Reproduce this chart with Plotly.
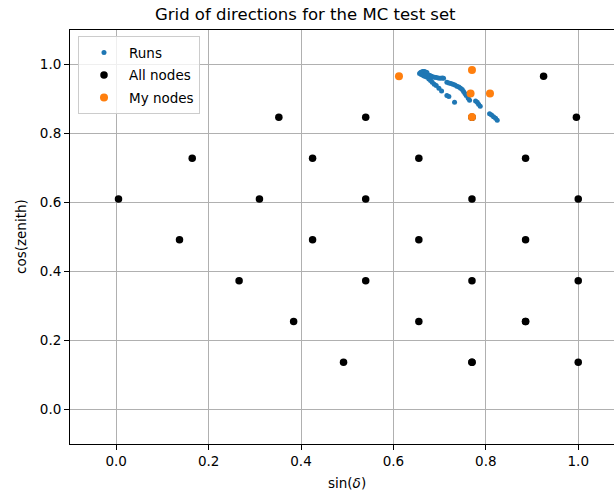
import plotly.graph_objects as go

# Directions of the individual MC runs
runs_x = [0.6565, 0.6587, 0.6609, 0.6638, 0.6666, 0.6695, 0.6724, 0.6602, 0.6638, 0.6666,
          0.6695, 0.6731, 0.6760, 0.6789, 0.6825, 0.6854, 0.6890, 0.6926, 0.6970, 0.7013,
          0.7056, 0.7085, 0.6767, 0.6804, 0.6840, 0.6883, 0.6926, 0.6984, 0.7042, 0.7157,
          0.7200, 0.7323, 0.7157, 0.7200, 0.7244, 0.7287, 0.7330, 0.7374, 0.7417, 0.7453,
          0.7489, 0.7518, 0.7547, 0.7576, 0.7619, 0.7648, 0.7778, 0.7814, 0.7843, 0.7879,
          0.8081, 0.8124, 0.8167, 0.8211, 0.8247]
runs_y = [0.9736, 0.9765, 0.9784, 0.9794, 0.9794, 0.9784, 0.9765, 0.9707, 0.9688, 0.9668,
          0.9649, 0.9630, 0.9697, 0.9678, 0.9659, 0.9639, 0.9630, 0.9620, 0.9610, 0.9601,
          0.9610, 0.9601, 0.9581, 0.9533, 0.9485, 0.9427, 0.9388, 0.9311, 0.9233, 0.9098,
          0.9069, 0.8905, 0.9485, 0.9465, 0.9446, 0.9427, 0.9407, 0.9369, 0.9349, 0.9311,
          0.9272, 0.9214, 0.9156, 0.9098, 0.9021, 0.8963, 0.8943, 0.8905, 0.8847, 0.8789,
          0.8576, 0.8537, 0.8489, 0.8441, 0.8383]

# Full grid of node directions
all_x = [0.925,
         0.352, 0.540, 0.770, 0.996,
         0.1645, 0.425, 0.655, 0.886,
         0.005, 0.310, 0.540, 0.770, 1.000,
         0.137, 0.425, 0.655, 0.886,
         0.266, 0.540, 0.770, 1.000,
         0.384, 0.655, 0.886, 0.886,
         0.492, 0.770, 0.770, 1.000]
all_y = [0.966,
         0.847, 0.847, 0.847, 0.847,
         0.728, 0.728, 0.728, 0.728,
         0.610, 0.610, 0.610, 0.610, 0.610,
         0.492, 0.492, 0.492, 0.492,
         0.373, 0.373, 0.373, 0.373,
         0.255, 0.255, 0.255, 0.255,
         0.137, 0.137, 0.137, 0.137]

# Nodes selected for this test set
my_x = [0.612, 0.770, 0.767, 0.809, 0.770]
my_y = [0.966, 0.984, 0.916, 0.916, 0.848]

FONT = "DejaVu Sans"

fig = go.Figure()
fig.add_trace(go.Scatter(
    x=runs_x, y=runs_y, mode="markers", name="Runs",
    marker=dict(color="#1f77b4", size=5, line=dict(width=0)),
    legendgroup="a",
))
fig.add_trace(go.Scatter(
    x=all_x, y=all_y, mode="markers", name="All nodes",
    marker=dict(color="black", size=7.5, line=dict(width=0)),
    legendgroup="b",
))
fig.add_trace(go.Scatter(
    x=my_x, y=my_y, mode="markers", name="My nodes",
    marker=dict(color="#ff7f0e", size=8, line=dict(width=0)),
    legendgroup="c",
))

axis_common = dict(
    showgrid=True, gridcolor="#b0b0b0", gridwidth=1,
    showline=True, linecolor="black", linewidth=1,
    ticks="outside", ticklen=5, tickwidth=1, tickcolor="black",
    tickfont=dict(family=FONT, size=13.5, color="black"),
    zeroline=False,
)

fig.update_xaxes(range=[-0.1, 1.0774], tickvals=[0, 0.2, 0.4, 0.6, 0.8, 1.0],
                 ticktext=["0.0", "0.2", "0.4", "0.6", "0.8", "1.0"],
                 mirror=True, **axis_common)
fig.update_yaxes(range=[-0.1, 1.1], tickvals=[0, 0.2, 0.4, 0.6, 0.8, 1.0],
                 ticktext=["0.0", "0.2", "0.4", "0.6", "0.8", "1.0"],
                 mirror=False, **axis_common)

fig.update_layout(
    width=614, height=493,
    margin=dict(l=70, r=0, t=30, b=49, pad=0),
    plot_bgcolor="white", paper_bgcolor="white",
    font=dict(family=FONT, size=13.5, color="black"),
    showlegend=True,
    legend=dict(
        x=0.0147, y=0.985, xanchor="left", yanchor="top",
        bgcolor="rgba(255,255,255,0.8)", bordercolor="#cccccc", borderwidth=1,
        font=dict(family=FONT, size=13.5, color="black"),
        traceorder="grouped", tracegroupgap=2, itemsizing="trace",
        itemwidth=40,
    ),
    annotations=[
        dict(text="Grid of directions for the MC test set", xref="paper", yref="paper",
             x=(305.5 - 70) / 544, y=1, yshift=16, xanchor="center", yanchor="middle",
             showarrow=False, font=dict(family=FONT, size=16.5, color="black")),
        dict(text="sin(<i>δ</i>)", xref="paper", yref="paper",
             x=(347 - 70) / 544, y=0, yshift=-39, xanchor="center", yanchor="middle",
             showarrow=False, font=dict(family=FONT, size=13.5, color="black")),
        dict(text="cos(zenith)", xref="paper", yref="paper", textangle=-90,
             x=0, xshift=-49, y=0.5, xanchor="center", yanchor="middle",
             showarrow=False, font=dict(family=FONT, size=13.5, color="black")),
    ],
)

fig.write_html("out.html")
